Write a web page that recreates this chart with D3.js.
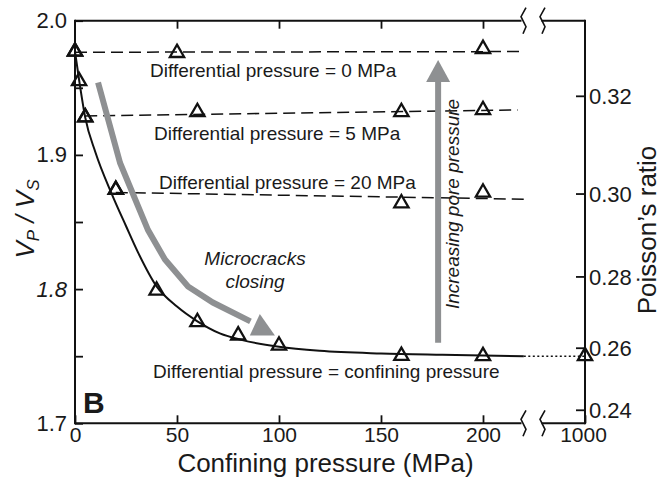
<!DOCTYPE html>
<html><head><meta charset="utf-8">
<script src="https://cdn.jsdelivr.net/npm/d3@7"></script>
<style>
body{margin:0;background:#fff;}
text{font-family:"Liberation Sans",Arial,sans-serif;fill:#1a1a1a;}
</style></head>
<body><svg id="c" width="662" height="485"></svg>
<script>
// ---- data ----
const pressureTicks = [0, 50, 100, 150, 200, 1000];
const topTicks = [50, 100, 150, 200];
const vpvsTicks = [1.7, 1.8, 1.9, 2.0];
const vpvsMinor = [1.75, 1.85, 1.95];
const poissonTicks = [0.24, 0.26, 0.28, 0.30, 0.32];

// Differential pressure = 0 MPa
const dp0X = [0, 50, 200];
const dp0Y = [1.977, 1.976, 1.979];
const dp0LineX = [0, 220];
const dp0LineY = [1.9765, 1.977];
// Differential pressure = 5 MPa
const dp5X = [5, 60, 160, 200];
const dp5Y = [1.928, 1.932, 1.932, 1.9335];
const dp5LineX = [5, 217];
const dp5LineY = [1.929, 1.9335];
// Differential pressure = 20 MPa
const dp20X = [20, 160, 200];
const dp20Y = [1.874, 1.864, 1.872];
const dp20LineX = [20, 220];
const dp20LineY = [1.872, 1.867];
// Differential pressure = confining pressure
const dcX = [0, 2, 5, 20, 40, 60, 80, 100, 160, 200, 1000];
const dcY = [1.977, 1.955, 1.928, 1.874, 1.799, 1.7755, 1.7655, 1.758, 1.7503, 1.7501, 1.7501];
// fitted curve
const fitX = [0, 2, 5, 10, 18, 25, 31, 40, 50, 60, 71, 82, 100, 120, 150, 180, 220];
const fitY = [1.977, 1.956, 1.928, 1.902, 1.871, 1.847, 1.827, 1.802, 1.787, 1.776, 1.767, 1.762, 1.757, 1.754, 1.752, 1.751, 1.750];
const dotX = [220, 1000];
const dotY = [1.750, 1.750];
// annotation arrows (data coordinates)
const crackArrowX = [11.3, 22.1, 35.8, 44.1, 55.4, 67.6, 86];
const crackArrowY = [1.954, 1.894, 1.844, 1.822, 1.802, 1.790, 1.776];
const crackHeadX = [98, 90.6, 85.7];
const crackHeadY = [1.7655, 1.7815, 1.7655];
const poreArrowX = [178, 178];
const poreArrowY = [1.760, 1.9707];

// ---- layout ----
const L = 75, R = 585, T = 20.7, B = 423.3;
const svg = d3.select("#c");
const x = d3.scaleLinear().domain([0, 220, 1000]).range([L, 523.8, R]);
const y = d3.scaleLinear().domain([1.7, 2.0]).range([B, T]);
const nuToVpvs = nu => Math.sqrt((2 - 2 * nu) / (1 - 2 * nu));
const gray = "#8e9092";
const ink = "#111";
const zip = (a, b) => a.map((v, i) => [v, b[i]]);

// axes
const fmt1 = d3.format(".1f");
const gl = svg.append("g").attr("transform", `translate(${L},0)`)
  .call(d3.axisLeft(y).tickValues(vpvsTicks.concat(vpvsMinor)).tickSize(-8).tickSizeOuter(0).tickPadding(8)
    .tickFormat(d => vpvsTicks.includes(d) ? fmt1(d) : ""));
gl.selectAll("text").style("font-size", "22px").style("font-style", d => d === 1.8 ? "italic" : "normal");
const gb = svg.append("g").attr("transform", `translate(0,${B})`)
  .call(d3.axisBottom(x).tickValues(pressureTicks).tickSize(-8).tickSizeOuter(0).tickPadding(4).tickFormat(d3.format("d")));
gb.selectAll("text").style("font-size", "21px");
gb.selectAll("text").filter(d => d === 1000).attr("dx", "-2");
const gt = svg.append("g").attr("transform", `translate(0,${T})`)
  .call(d3.axisTop(x).tickValues(topTicks).tickSize(-8).tickSizeOuter(0).tickFormat(""));
[gl, gb, gt].forEach(g => { g.select(".domain").remove(); g.selectAll("line").attr("stroke", ink).attr("stroke-width", 1.8); g.selectAll("text").attr("fill", "#1a1a1a"); });

// right axis (Poisson's ratio)
const gr = svg.append("g");
gr.selectAll("line").data(poissonTicks).join("line")
  .attr("x1", R - 9).attr("x2", R).attr("y1", d => y(nuToVpvs(d))).attr("y2", d => y(nuToVpvs(d)))
  .attr("stroke", ink).attr("stroke-width", 1.8);
gr.selectAll("text").data(poissonTicks).join("text")
  .attr("x", R + 4).attr("y", d => y(nuToVpvs(d))).attr("dy", "0.36em")
  .style("font-size", "22px").text(d => d3.format(".2f")(d));

// frame lines with breaks
const frame = svg.append("g").attr("stroke", ink).attr("stroke-width", 2).attr("fill", "none");
frame.append("line").attr("x1", L).attr("x2", L).attr("y1", T - 1).attr("y2", B + 1);
frame.append("line").attr("x1", R).attr("x2", R).attr("y1", T - 1).attr("y2", B + 1);
[T, B].forEach(yy => {
  frame.append("line").attr("x1", L).attr("x2", 521.5).attr("y1", yy).attr("y2", yy);
  frame.append("line").attr("x1", 541.5).attr("x2", R).attr("y1", yy).attr("y2", yy);
  [523, 542].forEach(bx => {
    frame.append("path").attr("stroke-width", 1.6)
      .attr("d", `M${bx + 3},${yy - 13} L${bx - 2},${yy - 4} L${bx + 3},${yy + 6} L${bx},${yy + 13}`);
  });
});

// lines
const line = d3.line().x(d => x(d[0])).y(d => y(d[1]));
const lg = svg.append("g").attr("fill", "none").attr("stroke", ink);
[[dp0LineX, dp0LineY], [dp5LineX, dp5LineY], [dp20LineX, dp20LineY]].forEach(([a, b]) => {
  lg.append("path").attr("d", line(zip(a, b))).attr("stroke-width", 1.5).attr("stroke-dasharray", "12,6");
});
lg.append("path").attr("d", d3.line().x(d => x(d[0])).y(d => y(d[1])).curve(d3.curveMonotoneX)(zip(fitX, fitY)))
  .attr("stroke-width", 2);
lg.append("path").attr("d", line(zip(dotX, dotY))).attr("stroke-width", 1.6).attr("stroke-dasharray", "2,2.5");

// markers
const tri = d3.symbol().type(d3.symbolTriangle).size(88);
const mg = svg.append("g").attr("fill", "none").attr("stroke", ink).attr("stroke-width", 2.3);
[[dp0X, dp0Y], [dp5X, dp5Y], [dp20X, dp20Y], [dcX, dcY]].forEach(([a, b]) => {
  mg.selectAll(null).data(zip(a, b)).join("path")
    .attr("transform", d => `translate(${x(d[0])},${y(d[1])})`).attr("d", tri);
});

// gray arrows
svg.append("path").attr("d", line(zip(crackArrowX, crackArrowY)))
  .attr("fill", "none").attr("stroke", gray).attr("stroke-width", 6);
svg.append("path").attr("d", line(zip(crackHeadX, crackHeadY)) + "Z").attr("fill", gray);
svg.append("line").attr("x1", x(poreArrowX[0])).attr("x2", x(poreArrowX[1]))
  .attr("y1", y(poreArrowY[0])).attr("y2", y(poreArrowY[1]) + 20)
  .attr("stroke", gray).attr("stroke-width", 6);
{
  const hx = x(poreArrowX[1]), hy = y(poreArrowY[1]);
  svg.append("path").attr("d", `M${hx},${hy} L${hx + 12},${hy + 22} L${hx - 12},${hy + 22} Z`).attr("fill", gray);
}

// annotations
const ann = (t, xx, yy, opts = {}) => svg.append("text").attr("x", xx).attr("y", yy)
  .style("font-size", (opts.size || 19) + "px").style("font-style", opts.italic ? "italic" : "normal")
  .style("font-weight", opts.bold ? "bold" : "normal").attr("text-anchor", opts.anchor || "start").text(t);
ann("Differential pressure = 0 MPa", 150, 77);
ann("Differential pressure = 5 MPa", 154, 140);
ann("Differential pressure = 20 MPa", 159, 189);
ann("Differential pressure = confining pressure", 153, 378);
ann("Microcracks", 255, 265, {italic: true, anchor: "middle"});
ann("closing", 255, 288, {italic: true, anchor: "middle"});
ann("B", 83, 413, {bold: true, size: 30});
svg.append("text").attr("transform", "translate(459,204) rotate(-90)").attr("text-anchor", "middle")
  .style("font-size", "19px").style("font-style", "italic").text("Increasing pore pressure");

// axis titles
svg.append("text").attr("x", 325.5).attr("y", 472).attr("text-anchor", "middle").style("font-size", "26px")
  .text("Confining pressure (MPa)");
svg.append("text").attr("transform", "translate(656,230) rotate(-90)").attr("text-anchor", "middle")
  .style("font-size", "26px").text("Poisson’s ratio");
const yt = svg.append("text").attr("transform", "translate(34,219) rotate(-90)").attr("text-anchor", "middle")
  .style("font-size", "26px").style("font-style", "italic");
yt.append("tspan").text("V");
yt.append("tspan").attr("dy", "5").style("font-size", "17px").text("P");
yt.append("tspan").attr("dy", "-5").text(" / V");
yt.append("tspan").attr("dy", "5").style("font-size", "17px").text("S");
</script></body></html>
